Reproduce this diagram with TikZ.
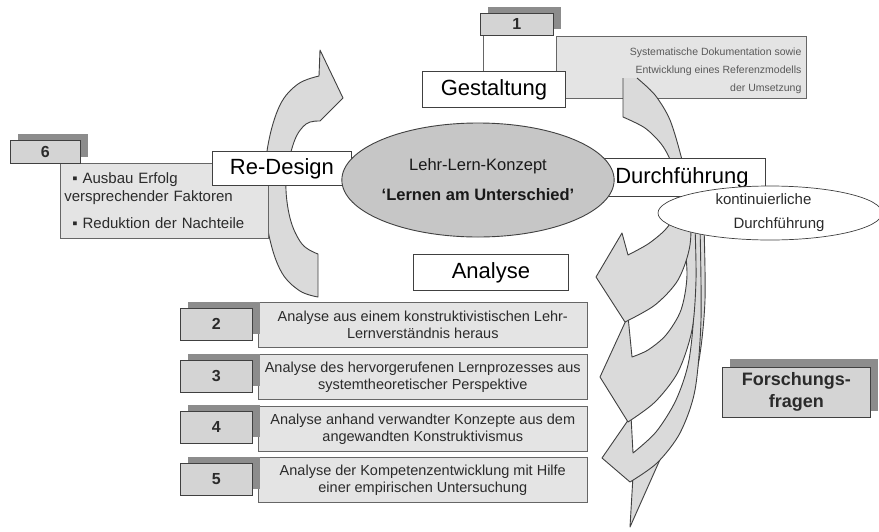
\documentclass[tikz,border=0pt]{standalone}
\usepackage{fontspec}
\setmainfont{Liberation Sans}
\usetikzlibrary{shapes.geometric,shadows}
\definecolor{edgegray}{HTML}{404040}
\definecolor{bandgray}{HTML}{DADADA}
\definecolor{ellgray}{HTML}{C6C6C6}
\definecolor{panelgray}{HTML}{E4E4E4}
\definecolor{numgray}{HTML}{D4D4D4}
\definecolor{shadegray}{HTML}{8C8C8C}
\definecolor{textgray}{HTML}{2B2B2B}
\newcommand{\setfs}[2]{\fontsize{#1}{#2}\selectfont}
\begin{document}
\begin{tikzpicture}[x=1pt,y=-1pt,
  band/.style={fill=bandgray,draw=edgegray,line width=0.9pt,line join=round},
  stagebox/.style={draw=edgegray,fill=white,line width=0.9pt,inner sep=0pt,anchor=north west,font=\setfs{22}{26}},
  numbox/.style={draw=edgegray,fill=numgray,line width=0.7pt,inner sep=0pt,anchor=north west,
    minimum width=72,minimum height=32,font=\bfseries\setfs{16}{18},text=textgray,
    drop shadow={shadow xshift=8pt,shadow yshift=6pt,fill=shadegray,opacity=1}},
  panel/.style={draw=edgegray!80,fill=panelgray,line width=0.6pt,inner sep=0pt,anchor=north west,
    align=center,text=textgray,font=\setfs{14.5}{17}},
]
\useasboundingbox (0,0) rectangle (879,531);

% Re-Design: curved arrow rising on the left
\filldraw[band] (318,297) -- plot[smooth,tension=0.6] coordinates {(318,297) (300,291) (282,273) (270,240) (264,195) (268,145) (280,105) (298,84) (319,76)}
  -- (320,50) -- (343,98) -- (320,121)
  -- plot[smooth,tension=0.6] coordinates {(320,121) (306,124) (294,142) (286,180) (290,218) (302,244) (318,254)} -- cycle;

% step 6
\node[panel,align=left,text width=200,inner xsep=4pt,minimum height=75,font=\setfs{15}{18}] (p6) at (60,163)
  {\hspace*{8pt}▪ Ausbau Erfolg\\versprechender Faktoren\\[9pt]\hspace*{8pt}▪ Reduktion der Nachteile};
\node[numbox,minimum width=70,minimum height=23] (n6) at (10,140) {6};
\node[stagebox,minimum width=139,minimum height=34] (redes) at (212,151) {Re-Design};

% step 1
\node[panel,minimum width=250,minimum height=62] (p1) at (556,36) {};
\node[anchor=south east,align=right,inner sep=0pt,font=\setfs{10.5}{18},text=black!65] (p1text)
  at ([xshift=-5pt,yshift=5pt]p1.south east)
  {Systematische Dokumentation sowie\\Entwicklung eines Referenzmodells\\der Umsetzung};
\node[numbox,minimum width=73,minimum height=22] (n1) at (480,13) {1};
\node[stagebox,minimum width=143,minimum height=36] (gest) at (422,71) {Gestaltung};
\coordinate (c1) at ([xshift=3pt]n1.south west);
\draw[edgegray!80,line width=0.6pt] (c1) -- (c1 |- gest.north);

% continuous execution: cascade of arrows (back to front)
\filldraw[band] (692,226) -- plot[smooth] coordinates {(692,226) (697,300) (690,370) (672,425) (652,458) (633,476)}
  -- (630,527) -- (662,455)
  -- plot[smooth] coordinates {(662,455) (684,418) (699,360) (705,300) (704,226)} -- cycle;
\filldraw[band] (688,226) -- plot[smooth] coordinates {(688,226) (694,300) (689,360) (676,400) (656,432) (633,453)}
  -- (631,416) -- (602,458) -- (630,482)
  -- plot[smooth] coordinates {(630,482) (657,463) (680,433) (695,390) (701,320) (700,226)} -- cycle;
\filldraw[band] (683,226) -- plot[smooth] coordinates {(683,226) (687,275) (681,310) (666,335) (648,350) (632,357)}
  -- (628,316) -- (600,377) -- (628,422)
  -- plot[smooth] coordinates {(628,422) (655,402) (678,372) (692,330) (696,280) (695,226)} -- cycle;
% Durchfuehrung: arrow coming down from step 1
\filldraw[band] (637,78) -- plot[smooth] coordinates {(637,78) (655,95) (670,120) (682,160) (690,200) (690,245) (678,280) (655,305) (625,322)}
  -- (596,277) -- (622,233) -- (628,255)
  -- plot[smooth] coordinates {(628,255) (648,244) (665,230) (675,215) (677,195) (672,165) (662,145) (645,128) (623,117)}
  -- (623,78);

\node[stagebox,minimum width=167,minimum height=38] (durch) at (598,158) {Durchführung};
\node[ellipse,draw=edgegray,fill=white,line width=0.7pt,minimum width=224,minimum height=54,inner sep=0pt,
  align=left,font=\setfs{15}{24},text=textgray] (kont) at (770,213) {kontinuierliche\\\hspace*{18pt}Durchführung};

% concept in the middle
\node[ellipse,draw=edgegray,fill=ellgray,line width=0.9pt,minimum width=232,minimum height=114,inner sep=0pt,
  align=center,font=\setfs{16.5}{30},text=black!90] (concept) at (478,180)
  {Lehr-Lern-Konzept\\\textbf{‘Lernen am Unterschied’}};

\node[stagebox,minimum width=155,minimum height=36] (anal) at (413,254) {Analyse};

% analysis steps 2-5
\node[panel,minimum width=329,minimum height=45] (p2) at (258,302) {Analyse aus einem konstruktivistischen Lehr-\\Lernverständnis heraus};
\node[numbox] (n2) at (180,308) {2};
\node[panel,minimum width=329,minimum height=45] (p3) at (258,354) {Analyse des hervorgerufenen Lernprozesses aus\\systemtheoretischer Perspektive};
\node[numbox] (n3) at (180,360) {3};
\node[panel,minimum width=329,minimum height=45] (p4) at (258,406) {Analyse anhand verwandter Konzepte aus dem\\angewandten Konstruktivismus};
\node[numbox] (n4) at (180,411) {4};
\node[panel,minimum width=329,minimum height=45] (p5) at (258,457) {Analyse der Kompetenzentwicklung mit Hilfe\\einer empirischen Untersuchung};
\node[numbox] (n5) at (180,463) {5};

% research questions
\node[numbox,minimum width=148,minimum height=50,align=center,font=\bfseries\setfs{18}{22},
  drop shadow={shadow xshift=8pt,shadow yshift=8pt,fill=shadegray,opacity=1}] (ff) at (722,367) {Forschungs-\\fragen};
\end{tikzpicture}
\end{document}
